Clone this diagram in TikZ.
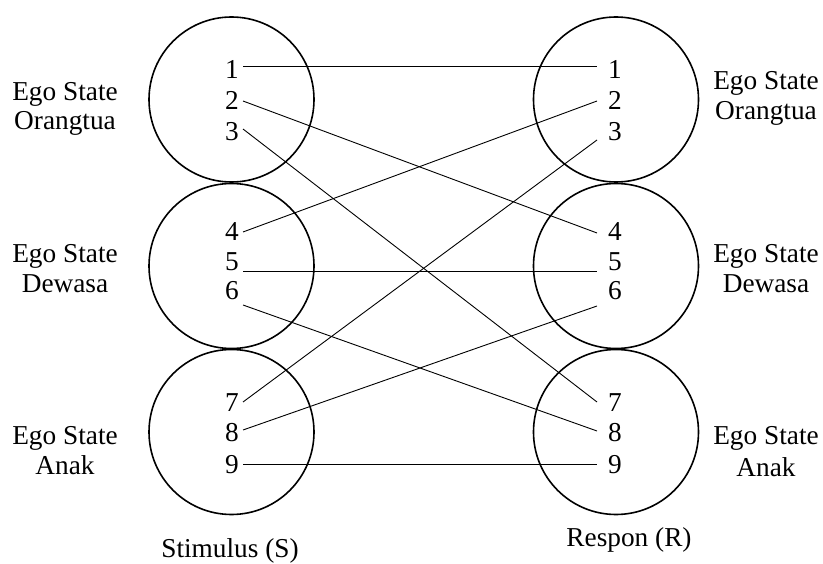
\documentclass[tikz,border=0pt]{standalone}
\usepackage{fontspec}
\setmainfont{Liberation Serif}
\begin{document}
\begin{tikzpicture}[x=1pt,y=-1pt,
  txt/.style={font=\fontsize{27.3}{30}\selectfont, inner sep=0pt, anchor=base},
  ego/.style={draw, line width=1.6pt, circle, minimum size=165pt, inner sep=0pt},
  link/.style={line width=0.9pt}]
\useasboundingbox (0,0) rectangle (823,564);
% circles
\node[ego] (CL1) at (231.5,99.5) {};
\node[ego] (CL2) at (231.5,266) {};
\node[ego] (CL3) at (231.5,432) {};
\node[ego] (CR1) at (616,99.5) {};
\node[ego] (CR2) at (616,266) {};
\node[ego] (CR3) at (616,432) {};
% digits left
\node[txt] (dl1) at (232,79) {1};
\node[txt] (dl2) at (232,110) {2};
\node[txt] (dl3) at (232,141) {3};
\node[txt] (dl4) at (232,241) {4};
\node[txt] (dl5) at (232,271) {5};
\node[txt] (dl6) at (232,300) {6};
\node[txt] (dl7) at (232,412) {7};
\node[txt] (dl8) at (232,442) {8};
\node[txt] (dl9) at (232,473) {9};
% digits right
\node[txt] (dr1) at (615,79) {1};
\node[txt] (dr2) at (615,110) {2};
\node[txt] (dr3) at (615,141) {3};
\node[txt] (dr4) at (615,241) {4};
\node[txt] (dr5) at (615,271) {5};
\node[txt] (dr6) at (615,300) {6};
\node[txt] (dr7) at (615,412) {7};
\node[txt] (dr8) at (615,442) {8};
\node[txt] (dr9) at (615,473) {9};
% line end points
\coordinate (L1) at (243,66);
\coordinate (L2) at (243,101);
\coordinate (L3) at (243,129);
\coordinate (L4) at (243,232);
\coordinate (L5) at (243,271);
\coordinate (L6) at (243,305);
\coordinate (L7) at (243,402);
\coordinate (L8) at (243,430);
\coordinate (L9) at (243,464);
\coordinate (R1) at (597,66);
\coordinate (R2) at (597,101);
\coordinate (R3) at (597,140);
\coordinate (R4) at (597,233);
\coordinate (R5) at (597,271);
\coordinate (R6) at (597,306);
\coordinate (R7) at (597,402);
\coordinate (R8) at (597,431);
\coordinate (R9) at (597,464);
% connectors
\draw[link] (L1) -- (R1);
\draw[link] (L2) -- (R4);
\draw[link] (L3) -- (R7);
\draw[link] (L4) -- (R2);
\draw[link] (L5) -- (R5);
\draw[link] (L6) -- (R8);
\draw[link] (L7) -- (R3);
\draw[link] (L8) -- (R6);
\draw[link] (L9) -- (R9);
% side labels left
\node[txt] (a1) at (65,101) {Ego State};
\node[txt] (a2) at (65,130) {Orangtua};
\node[txt] (b1) at (65,263) {Ego State};
\node[txt] (b2) at (65,293) {Dewasa};
\node[txt] (c1) at (65,445) {Ego State};
\node[txt] (c2) at (65,475) {Anak};
% side labels right
\node[txt] (d1) at (766,90) {Ego State};
\node[txt] (d2) at (766,120) {Orangtua};
\node[txt] (e1) at (766,263) {Ego State};
\node[txt] (e2) at (766,293) {Dewasa};
\node[txt] (f1) at (766,445) {Ego State};
\node[txt] (f2) at (766,476) {Anak};
% bottom labels
\node[txt] (stim) at (230,557) {Stimulus (S)};
\node[txt] (resp) at (629,546) {Respon (R)};
\end{tikzpicture}
\end{document}
